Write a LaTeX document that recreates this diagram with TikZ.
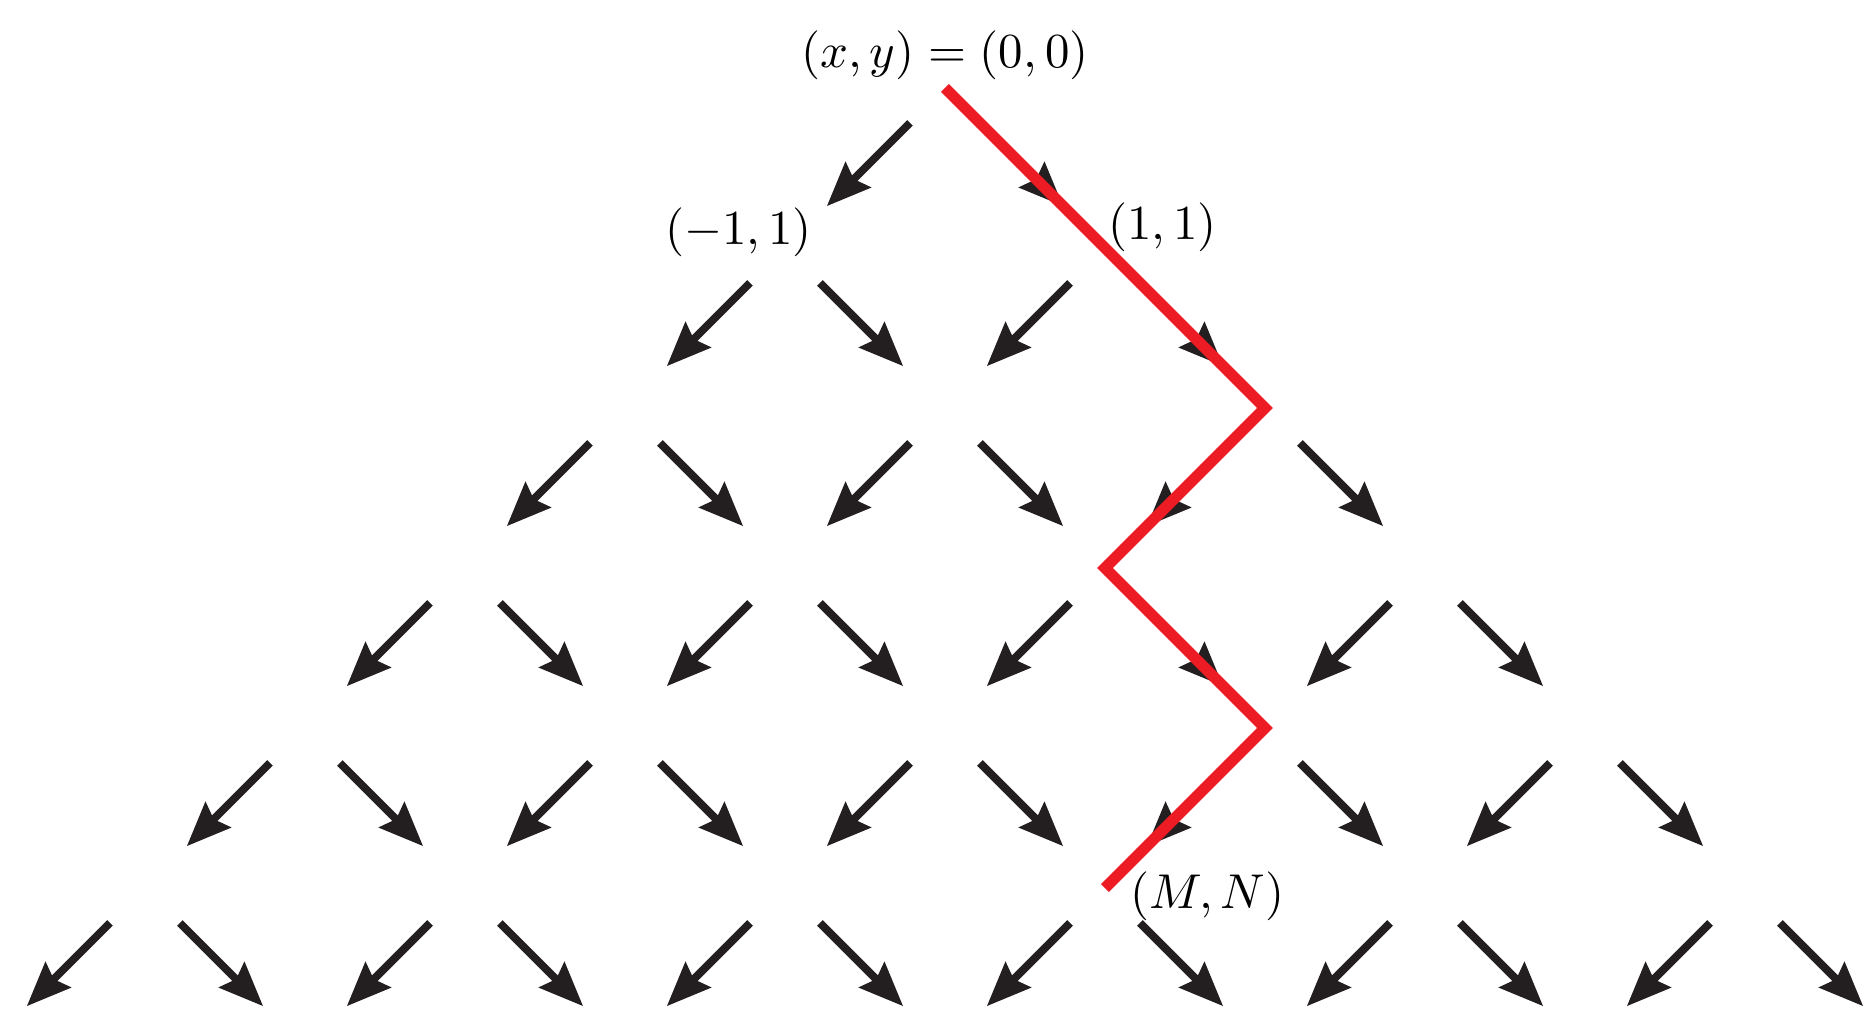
\documentclass[tikz,border=0pt]{standalone}
\usepackage{amsmath}
\usepackage{tikz}
\usetikzlibrary{arrows.meta}
\definecolor{pathred}{RGB}{237,28,36}
\definecolor{arrowblack}{RGB}{35,31,32}

\begin{document}
\begin{tikzpicture}[x=1.15cm,y=1.15cm,
		steparrow/.style={arrowblack,line width=1.6pt,-{Stealth[length=9pt,width=7.2pt,inset=1.2pt]},shorten <=0.355cm,shorten >=0.425cm},
		walk/.style={pathred,line width=2.3pt}]
		\useasboundingbox (-5.906,-5.906) rectangle (5.8125,0.55);
		% lattice points
		\foreach \r in {0,...,6}
			\foreach \k in {0,...,\r}
				\coordinate (n-\r-\k) at ({2*\k-\r},{-\r});
		\foreach \r in {0,...,5}
			\foreach \k in {0,...,\r} {
				\pgfmathtruncatemacro{\nr}{\r+1}
				\pgfmathtruncatemacro{\nk}{\k+1}
				\draw[steparrow] (n-\r-\k) -- (n-\nr-\k);
				\draw[steparrow] (n-\r-\k) -- (n-\nr-\nk);
			}
		\draw[walk] (n-0-0) -- (n-2-2) -- (n-3-2) -- (n-4-3) -- (n-5-3);
		\node[anchor=base] (origin) at ([shift={(0,0.125)}]n-0-0) {$(x,y) = (0,0)$};
		\node[anchor=base] (left) at ([shift={(-0.29,0.02)}]n-1-0) {$(-1,1)$};
		\node[anchor=base] (right) at ([shift={(0.36,0.05)}]n-1-1) {$(1,1)$};
		\node[anchor=base] (end) at ([shift={(0.64,-0.125)}]n-5-3) {$(M,N)$};
	\end{tikzpicture}
\end{document}
